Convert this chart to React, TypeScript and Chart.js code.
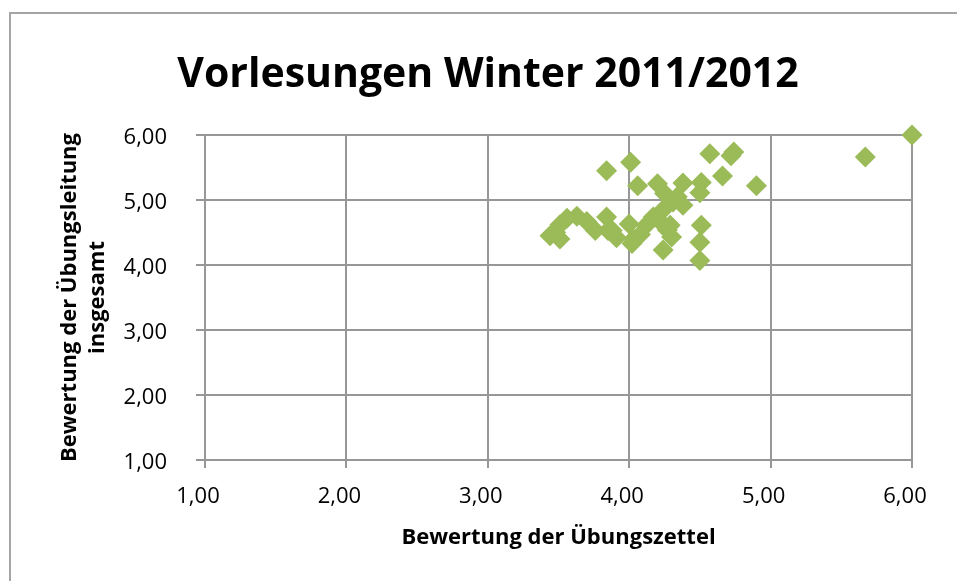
import React, { useEffect, useRef } from "react";
import { Chart, registerables } from "chart.js";

Chart.register(...registerables);

const chartTitle = "Vorlesungen Winter 2011/2012";
const xAxisTitle = "Bewertung der Übungszettel";
const yAxisTitle = ["Bewertung der Übungsleitung", "insgesamt"];

const xTickValues = [1, 2, 3, 4, 5, 6];
const yTickValues = [1, 2, 3, 4, 5, 6];

// Bewertung der Übungszettel (x)
const xValues = [
  6.0, 5.67, 4.9, 4.74, 4.72, 4.57, 4.66, 4.51, 4.5, 4.51, 4.5, 4.5,
  4.38, 4.38, 4.34, 4.25, 4.2, 4.06, 4.01, 3.84, 4.24, 4.21, 4.29, 4.3,
  4.24, 4.12, 4.08, 4.02, 4.0, 3.91, 3.88, 3.84, 3.85, 3.76, 3.7, 3.63,
  3.56, 3.51, 3.44, 3.51, 3.48, 4.17, 4.03, 4.31, 4.27,
];
// Bewertung der Übungsleitung insgesamt (y)
const yValues = [
  6.0, 5.66, 5.22, 5.74, 5.68, 5.71, 5.37, 5.27, 5.11, 4.61, 4.35, 4.07,
  5.26, 4.92, 5.05, 5.1, 5.25, 5.22, 5.58, 5.45, 4.85, 4.69, 4.61, 4.43,
  4.23, 4.61, 4.47, 4.33, 4.63, 4.42, 4.53, 4.74, 4.53, 4.53, 4.67, 4.75,
  4.72, 4.62, 4.45, 4.4, 4.5, 4.74, 4.4, 4.97, 4.54,
];

const FONT = "'Open Sans', sans-serif";
const GRID = "#979797";
const MARKER = "#9bbb59";

const fmt = (v: number | string) => Number(v).toFixed(2).replace(".", ",");

const titlePlugin = {
  id: "excelTitle",
  afterDraw(chart: any) {
    const ctx = chart.ctx;
    ctx.save();
    ctx.font = `bold 41px ${FONT}`;
    ctx.fillStyle = "#000";
    ctx.textAlign = "center";
    ctx.textBaseline = "alphabetic";
    ctx.fillText(chartTitle, 488, 87);
    ctx.restore();
  },
};

export default function App() {
  const ref = useRef<HTMLCanvasElement | null>(null);

  useEffect(() => {
    if (!ref.current) return;
    const points = xValues.map((x, i) => ({ x, y: yValues[i] }));
    const chart = new Chart(ref.current, {
      type: "scatter",
      data: {
        datasets: [
          {
            data: points,
            clip: false,
            pointStyle: "rectRot",
            pointRadius: 10.5,
            pointBackgroundColor: MARKER,
            pointBorderColor: MARKER,
            pointBorderWidth: 0,
          },
        ],
      },
      options: {
        responsive: false,
        animation: false,
        events: [],
        layout: { padding: { left: 45, right: 45, top: 135, bottom: 0 } },
        plugins: {
          legend: { display: false },
          tooltip: { enabled: false },
          title: { display: false },
        },
        scales: {
          x: {
            type: "linear",
            position: "bottom",
            min: 1,
            max: 6,
            afterFit: (s: any) => {
              s.height = 121;
            },
            afterBuildTicks: (s: any) => {
              s.ticks = xTickValues.map((v) => ({ value: v }));
            },
            ticks: {
              callback: (v: any) => fmt(v),
              font: { family: FONT, size: 22 },
              color: "#000",
              padding: 16,
              labelOffset: -7,
              maxRotation: 0,
              autoSkip: false,
            },
            grid: { color: GRID, lineWidth: 2, tickLength: 8, drawTicks: true },
            border: { color: GRID, width: 2 },
            title: {
              display: true,
              text: xAxisTitle,
              color: "#000",
              font: { family: FONT, size: 22, weight: "bold", lineHeight: 1.25 },
              padding: { top: 0, bottom: 30 },
            },
          },
          y: {
            type: "linear",
            position: "left",
            min: 1,
            max: 6,
            afterFit: (s: any) => {
              s.width = 160;
            },
            afterBuildTicks: (s: any) => {
              s.ticks = yTickValues.map((v) => ({ value: v }));
            },
            ticks: {
              callback: (v: any) => fmt(v),
              font: { family: FONT, size: 22 },
              color: "#000",
              padding: 29,
              labelOffset: 3,
              autoSkip: false,
            },
            grid: { color: GRID, lineWidth: 2, tickLength: 9, drawTicks: true },
            border: { color: GRID, width: 2 },
            title: {
              display: true,
              text: yAxisTitle,
              color: "#000",
              font: { family: FONT, size: 22, weight: "bold", lineHeight: 1.25 },
              padding: { top: 11, bottom: 0 },
            },
          },
        },
      } as any,
      plugins: [titlePlugin],
    });
    return () => chart.destroy();
  }, []);

  return (
    <div
      style={{
        position: "fixed",
        left: 0,
        top: 0,
        width: 957,
        height: 581,
        overflow: "hidden",
        background: "#fff",
      }}
    >
      <div
        style={{
          position: "absolute",
          left: 9,
          top: 12,
          width: 1000,
          height: 1000,
          border: "2px solid #a5a5a5",
          boxSizing: "border-box",
        }}
      />
      <canvas
        ref={ref}
        width={957}
        height={581}
        style={{ position: "absolute", left: 0, top: 0, width: 957, height: 581 }}
      />
    </div>
  );
}
